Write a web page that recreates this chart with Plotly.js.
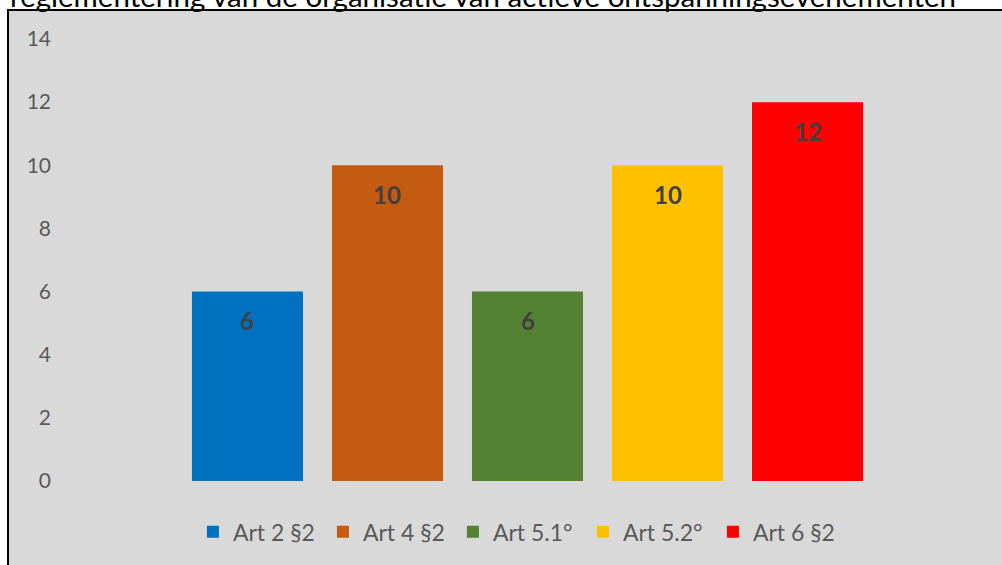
<!DOCTYPE html>
<html>
<head>
<meta charset="utf-8">
<script src="https://cdn.plot.ly/plotly-3.0.1.min.js"></script>
<style>html,body{margin:0;padding:0;background:#fff;}#chart{width:1002px;height:565px;}</style>
</head>
<body>
<div id="chart"></div>
<script>
const titleText = "reglementering van de organisatie van actieve ontspanningsevenementen";
const seriesNames = ["Art 2 §2", "Art 4 §2", "Art 5.1°", "Art 5.2°", "Art 6 §2"];
const seriesValues = [6, 10, 6, 10, 12];
const seriesColors = ["#0070c0", "#c55a11", "#548235", "#ffc000", "#ff0000"];
const yTicks = [0, 2, 4, 6, 8, 10, 12, 14];

const FONT = "Lato, 'Open Sans', sans-serif";

const traces = seriesNames.map((name, i) => ({
  type: "bar",
  name: name,
  x: [name],
  y: [seriesValues[i]],
  width: 0.793,
  marker: { color: seriesColors[i], line: { width: 0 } },
  hoverinfo: "skip"
}));

const labelAnnotations = seriesNames.map((name, i) => ({
  x: name, y: seriesValues[i], xref: "x", yref: "y",
  text: String(seriesValues[i]),
  showarrow: false, yanchor: "middle", yshift: -29,
  font: { family: FONT, size: 24, color: "#404040", weight: "bold" }
}));

const layout = {
  width: 1002, height: 565,
  margin: { l: 52, r: 20, t: 39, b: 84 },
  paper_bgcolor: "#ffffff",
  plot_bgcolor: "rgba(0,0,0,0)",
  barmode: "overlay",
  showlegend: true,
  xaxis: {
    type: "category", categoryorder: "array", categoryarray: seriesNames,
    range: [-1.396, 5.246], showticklabels: false, showgrid: false,
    zeroline: false, showline: false, ticks: "", fixedrange: true
  },
  yaxis: {
    range: [0, 14], tickvals: yTicks, ticktext: yTicks.map(String),
    showgrid: false, zeroline: false, showline: false, ticks: "",
    tickfont: { family: FONT, size: 21, color: "#595959" }, fixedrange: true
  },
  legend: {
    orientation: "h", x: 0.501, xanchor: "center", y: -0.115, yanchor: "middle",
    entrywidth: 85, entrywidthmode: "pixels",
    font: { family: FONT, size: 23, color: "#595959" },
    bgcolor: "rgba(0,0,0,0)", itemclick: false, itemdoubleclick: false
  },
  shapes: [{
    type: "rect", xref: "paper", yref: "paper", layer: "below",
    x0: -0.0473, x1: 1.1, y0: -0.25, y1: 1.0656,
    fillcolor: "#d9d9d9", line: { color: "#000000", width: 2 }
  }],
  annotations: labelAnnotations.concat([{
    xref: "paper", yref: "paper", x: -0.0473, y: 1.0995,
    xanchor: "left", yanchor: "middle", showarrow: false,
    text: titleText,
    font: { family: FONT, size: 29.5, color: "#000000" }
  }])
};

Plotly.newPlot("chart", traces, layout, { displayModeBar: false, staticPlot: true });
</script>
</body>
</html>
